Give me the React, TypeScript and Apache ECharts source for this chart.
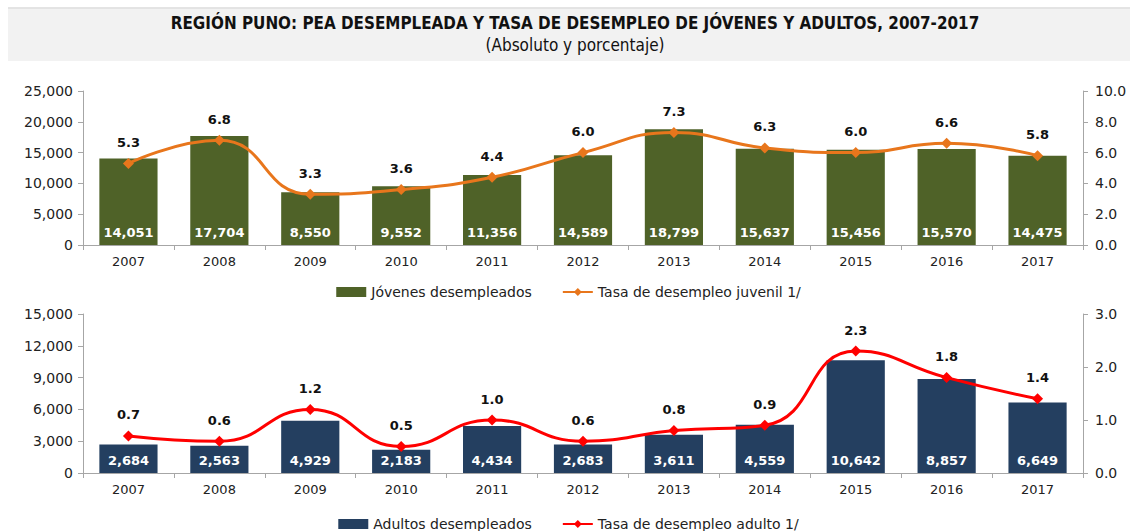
import React, { useEffect, useRef } from "react";
import * as echarts from "echarts";

const years = ["2007", "2008", "2009", "2010", "2011", "2012", "2013", "2014", "2015", "2016", "2017"];
const jovenes = [14051, 17704, 8550, 9552, 11356, 14589, 18799, 15637, 15456, 15570, 14475];
const tasaJuvenil = [5.3, 6.8, 3.3, 3.6, 4.4, 6.0, 7.3, 6.3, 6.0, 6.6, 5.8];
const adultos = [2684, 2563, 4929, 2183, 4434, 2683, 3611, 4559, 10642, 8857, 6649];
const tasaAdulto = [0.7, 0.6, 1.2, 0.5, 1.0, 0.6, 0.8, 0.9, 2.3, 1.8, 1.4];

const titleText = "REGIÓN PUNO: PEA DESEMPLEADA Y TASA DE DESEMPLEO DE JÓVENES Y ADULTOS, 2007-2017";
const subtitleText = "(Absoluto y porcentaje)";

const FONT = "DejaVu Sans";
const axisColor = "#a6a6a6";

export default function App() {
  const ref = useRef<HTMLDivElement>(null);
  useEffect(() => {
    const chart = echarts.init(ref.current!, null, { renderer: "svg" });
    const fmt = (v: number) => v.toLocaleString("en-US");
    const catAxis = (gi: number) => ({
      type: "category",
      gridIndex: gi,
      data: years,
      axisLine: { lineStyle: { color: axisColor } },
      axisTick: { show: true, lineStyle: { color: axisColor }, length: 5 },
      axisLabel: { color: "#222", fontFamily: FONT, fontSize: 13, margin: 10 },
    });
    const valAxis = (gi: number, max: number, interval: number, dec: number, pos: string) => ({
      type: "value",
      gridIndex: gi,
      min: 0,
      max,
      interval,
      position: pos,
      splitLine: { show: false },
      axisLine: { show: true, lineStyle: { color: axisColor } },
      axisTick: { show: true, lineStyle: { color: axisColor }, length: 5 },
      axisLabel: {
        color: "#222",
        fontFamily: FONT,
        fontSize: 14,
        margin: pos === "left" ? 10 : 12,
        formatter: (v: number) => (dec > 0 ? v.toFixed(dec) : fmt(v)),
      },
    });
    const barLabel = {
      show: true,
      position: "insideBottom",
      distance: 6,
      color: "#fff",
      fontFamily: FONT,
      fontWeight: "bold",
      fontSize: 13,
      formatter: (p: any) => fmt(p.value),
    };
    const lineLabel = {
      show: true,
      position: "top",
      distance: 9,
      color: "#111",
      fontFamily: FONT,
      fontWeight: "bold",
      fontSize: 13,
      formatter: (p: any) => p.value.toFixed(1),
    };
    const legendText = { fontFamily: FONT, fontSize: 14, color: "#222" };
    chart.setOption({
      animation: false,
      backgroundColor: "#fff",
      graphic: [
        { type: "rect", shape: { x: 8, y: 9, width: 1122, height: 52 }, style: { fill: "#f2f2f2" } },
        { type: "line", shape: { x1: 8, y1: 8, x2: 1130, y2: 8 }, style: { stroke: "#c8c8c8", lineWidth: 1 } },
        {
          type: "text",
          x: 575,
          y: 23,
          style: {
            text: titleText,
            fontFamily: "DejaVu Sans Condensed",
            fontWeight: "bold",
            fontSize: 16.9,
            fill: "#111",
            align: "center",
            verticalAlign: "middle",
          },
        },
        {
          type: "text",
          x: 575,
          y: 45,
          style: {
            text: subtitleText,
            fontFamily: "DejaVu Sans Condensed",
            fontSize: 17,
            fill: "#111",
            align: "center",
            verticalAlign: "middle",
          },
        },
      ],
      legend: [
        {
          data: [
            { name: "Jóvenes desempleados", icon: "rect" },
            { name: "Tasa de desempleo juvenil 1/" },
          ],
          top: 280,
          left: "center",
          itemWidth: 30,
          itemHeight: 10,
          itemGap: 30,
          textStyle: legendText,
        },
        {
          data: [
            { name: "Adultos desempleados", icon: "rect" },
            { name: "Tasa de desempleo adulto 1/" },
          ],
          top: 512,
          left: "center",
          itemWidth: 30,
          itemHeight: 10,
          itemGap: 30,
          textStyle: legendText,
        },
      ],
      grid: [
        { left: 83, right: 54, top: 91, height: 154 },
        { left: 83, right: 54, top: 314, height: 159 },
      ],
      xAxis: [catAxis(0), catAxis(1)],
      yAxis: [
        valAxis(0, 25000, 5000, 0, "left"),
        valAxis(0, 10, 2, 1, "right"),
        valAxis(1, 15000, 3000, 0, "left"),
        valAxis(1, 3, 1, 1, "right"),
      ],
      series: [
        {
          name: "Jóvenes desempleados",
          type: "bar",
          xAxisIndex: 0,
          yAxisIndex: 0,
          data: jovenes,
          barWidth: "64%",
          itemStyle: { color: "#4f6228" },
          label: barLabel,
        },
        {
          name: "Tasa de desempleo juvenil 1/",
          type: "line",
          xAxisIndex: 0,
          yAxisIndex: 1,
          data: tasaJuvenil,
          smooth: true,
          symbol: "diamond",
          symbolSize: 11,
          lineStyle: { color: "#e8761c", width: 3 },
          itemStyle: { color: "#e8761c" },
          label: lineLabel,
        },
        {
          name: "Adultos desempleados",
          type: "bar",
          xAxisIndex: 1,
          yAxisIndex: 2,
          data: adultos,
          barWidth: "64%",
          itemStyle: { color: "#243f60" },
          label: barLabel,
        },
        {
          name: "Tasa de desempleo adulto 1/",
          type: "line",
          xAxisIndex: 1,
          yAxisIndex: 3,
          data: tasaAdulto,
          smooth: true,
          symbol: "diamond",
          symbolSize: 11,
          lineStyle: { color: "#ff0000", width: 3 },
          itemStyle: { color: "#ff0000" },
          label: lineLabel,
        },
      ],
    });
    return () => chart.dispose();
  }, []);
  return (
    <div
      ref={ref}
      style={{ position: "fixed", left: 0, top: 0, width: 1137, height: 531 }}
    />
  );
}
